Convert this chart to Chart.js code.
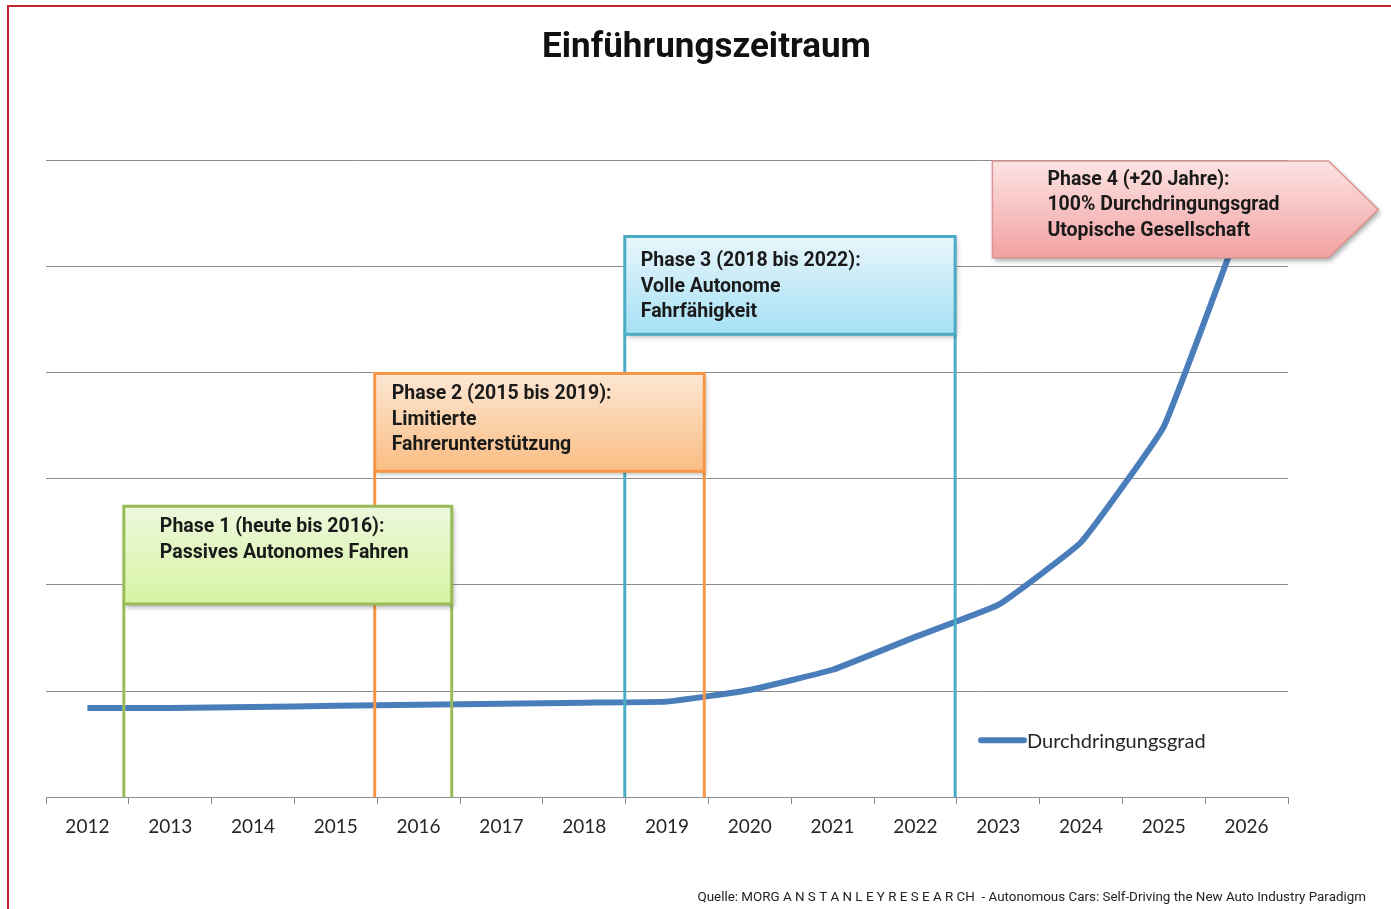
<!DOCTYPE html>
<html>
<head>
<meta charset="utf-8">
<script src="https://cdn.jsdelivr.net/npm/chart.js@4.4.1/dist/chart.umd.min.js"></script>
<style>
  html, body { margin: 0; padding: 0; background: #fff; }
  #wrap { width: 1391px; height: 909px; position: relative; }
</style>
</head>
<body>
<div id="wrap"><canvas id="chart"></canvas></div>
<script>
// DATA

const years = ['2012', '2013', '2014', '2015', '2016', '2017', '2018', '2019', '2020', '2021', '2022', '2023', '2024', '2025', '2026'];
const penetration = [0.84, 0.84, 0.85, 0.86, 0.87, 0.88, 0.89, 0.90, 1.01, 1.20, 1.51, 1.81, 2.40, 3.49, 5.55];
const seriesName = 'Durchdringungsgrad';
const chartTitle = 'Einführungszeitraum';
const sourceNote = 'Quelle: MORG A N S T A N L E Y R E S E A R CH  - Autonomous Cars: Self-Driving the New Auto Industry Paradigm';

const phaseTexts = [
	['Phase 1 (heute bis 2016):', 'Passives Autonomes Fahren'],
	['Phase 2 (2015 bis 2019):', 'Limitierte', 'Fahrerunterstützung'],
	['Phase 3 (2018 bis 2022):', 'Volle Autonome', 'Fahrfähigkeit'],
	['Phase 4 (+20 Jahre):', '100% Durchdringungsgrad', 'Utopische Gesellschaft'],
];

// phase boxes in axis units (category index / value), plus looks
const phaseBoxes = [
	{ from: 0.44, to: 4.40, top: 2.74, bottom: 1.82, legs: true, indent: 36, first: 21,
		border: '#9bbb59', fillTop: '#edf8dd', fillBottom: '#d6f3a2' },
	{ from: 3.47, to: 7.45, top: 3.99, bottom: 3.07, legs: true, indent: 17, first: 21,
		border: '#f79646', fillTop: '#fde7d4', fillBottom: '#f9bd83' },
	{ from: 6.49, to: 10.48, top: 5.28, bottom: 4.36, legs: true, indent: 16, first: 25,
		border: '#4bacc6', fillTop: '#e8f6fc', fillBottom: '#a6e0f4' },
	{ from: 10.93, to: 14.99, tip: 15.59, top: 5.99, bottom: 5.08, legs: false, indent: 55, first: 19,
		border: '#d99694', fillTop: '#fce3e3', fillBottom: '#f2a1a1' },
];

const lineColor = '#4a7ebb';
const gridColor = '#8c8c8c';

//==================================
// PLUGINS
//==================================

const frameAndTexts = {
	id: 'frameAndTexts',
	beforeDraw(chart) {
		const ctx = chart.ctx;
		ctx.save();
		ctx.fillStyle = '#fff';
		ctx.fillRect(0, 0, chart.width, chart.height);
		ctx.strokeStyle = '#c0262b';
		ctx.lineWidth = 2;
		ctx.beginPath();
		ctx.moveTo(8, chart.height);
		ctx.lineTo(8, 6);
		ctx.lineTo(chart.width, 6);
		ctx.stroke();
		ctx.restore();
	},
	afterDraw(chart) {
		const ctx = chart.ctx;
		const area = chart.chartArea;
		ctx.save();

		// title
		ctx.fillStyle = '#111';
		ctx.font = 'bold 35px Roboto';
		ctx.textAlign = 'center';
		ctx.textBaseline = 'middle';
		ctx.fillText(chartTitle, chart.width / 2 + 11, 48);

		// legend inside the plot
		const lx = area.right - 310;
		const ly = area.bottom - 57;
		ctx.strokeStyle = lineColor;
		ctx.lineWidth = 6;
		ctx.lineCap = 'round';
		ctx.beginPath();
		ctx.moveTo(lx + 3, ly);
		ctx.lineTo(lx + 46, ly);
		ctx.stroke();
		ctx.fillStyle = '#262626';
		ctx.font = '20px Lato';
		ctx.textAlign = 'left';
		ctx.fillText(seriesName, lx + 49, ly + 1);

		// source
		ctx.fillStyle = '#222';
		ctx.font = '13.4px Roboto';
		ctx.textAlign = 'right';
		ctx.fillText(sourceNote, 1366, 898);
		ctx.restore();
	}
};

const phasePlugin = {
	id: 'phases',
	afterDatasetsDraw(chart) {
		const ctx = chart.ctx;
		const x = chart.scales.x;
		const y = chart.scales.y;
		const axisY = y.getPixelForValue(0);

		// legs first, so every box sits on top of them
		phaseBoxes.forEach(b => {
			if (!b.legs) return;
			const l = x.getPixelForValue(b.from);
			const r = x.getPixelForValue(b.to);
			const bt = y.getPixelForValue(b.bottom);
			ctx.save();
			ctx.lineWidth = 3;
			ctx.strokeStyle = b.border;
			ctx.beginPath();
			ctx.moveTo(l, bt);
			ctx.lineTo(l, axisY);
			ctx.moveTo(r, bt);
			ctx.lineTo(r, axisY);
			ctx.stroke();
			ctx.restore();
		});

		phaseBoxes.forEach((b, i) => {
			const l = x.getPixelForValue(b.from);
			const r = x.getPixelForValue(b.to);
			const t = y.getPixelForValue(b.top);
			const bt = y.getPixelForValue(b.bottom);

			ctx.save();
			ctx.strokeStyle = b.border;
			ctx.beginPath();
			if (b.tip !== undefined) {
				const tipX = x.getPixelForValue(b.tip);
				ctx.moveTo(l, t);
				ctx.lineTo(r, t);
				ctx.lineTo(tipX, (t + bt) / 2);
				ctx.lineTo(r, bt);
				ctx.lineTo(l, bt);
				ctx.closePath();
			} else {
				ctx.rect(l, t, r - l, bt - t);
			}

			const grad = ctx.createLinearGradient(0, t, 0, bt);
			grad.addColorStop(0, b.fillTop);
			grad.addColorStop(1, b.fillBottom);
			ctx.fillStyle = grad;
			ctx.shadowColor = 'rgba(0,0,0,0.35)';
			ctx.shadowBlur = 5;
			ctx.shadowOffsetX = 2;
			ctx.shadowOffsetY = 3;
			ctx.fill();
			ctx.shadowColor = 'transparent';
			ctx.lineWidth = b.tip !== undefined ? 1.5 : 3;
			ctx.stroke();

			ctx.fillStyle = '#1a1a1a';
			ctx.font = 'bold 19.5px Roboto';
			ctx.textAlign = 'left';
			ctx.textBaseline = 'middle';
			phaseTexts[i].forEach((line, k) => {
				ctx.fillText(line, l + b.indent, t + b.first + k * 25.5);
			});
			ctx.restore();
		});
	}
};

//==================================
// CHART
//==================================

const chart = new Chart(document.getElementById('chart').getContext('2d'), {
	type: 'line',
	data: {
		labels: years,
		datasets: [{
			label: seriesName,
			data: penetration,
			borderColor: lineColor,
			borderWidth: 6,
			pointRadius: 0,
			tension: 0.1,
			fill: false,
		}],
	},
	options: {
		responsive: true,
		maintainAspectRatio: false,
		animation: false,
		layout: { padding: { top: 160, left: 46, right: 103, bottom: 60 } },
		plugins: {
			legend: { display: false },
			title: { display: false },
			tooltip: { enabled: false },
		},
		scales: {
			x: {
				offset: true,
				grid: { offset: true, drawOnChartArea: false, drawTicks: true, tickLength: 7, color: gridColor },
				border: { color: gridColor, width: 1 },
				ticks: { font: { family: 'Lato', size: 19 }, color: '#262626', padding: 11, maxRotation: 0 },
			},
			y: {
				min: 0,
				max: 6,
				ticks: { display: false, stepSize: 1 },
				grid: { color: gridColor, drawTicks: false },
				border: { display: false },
			},
		},
	},
	plugins: [frameAndTexts, phasePlugin],
});
</script>
</body>
</html>
